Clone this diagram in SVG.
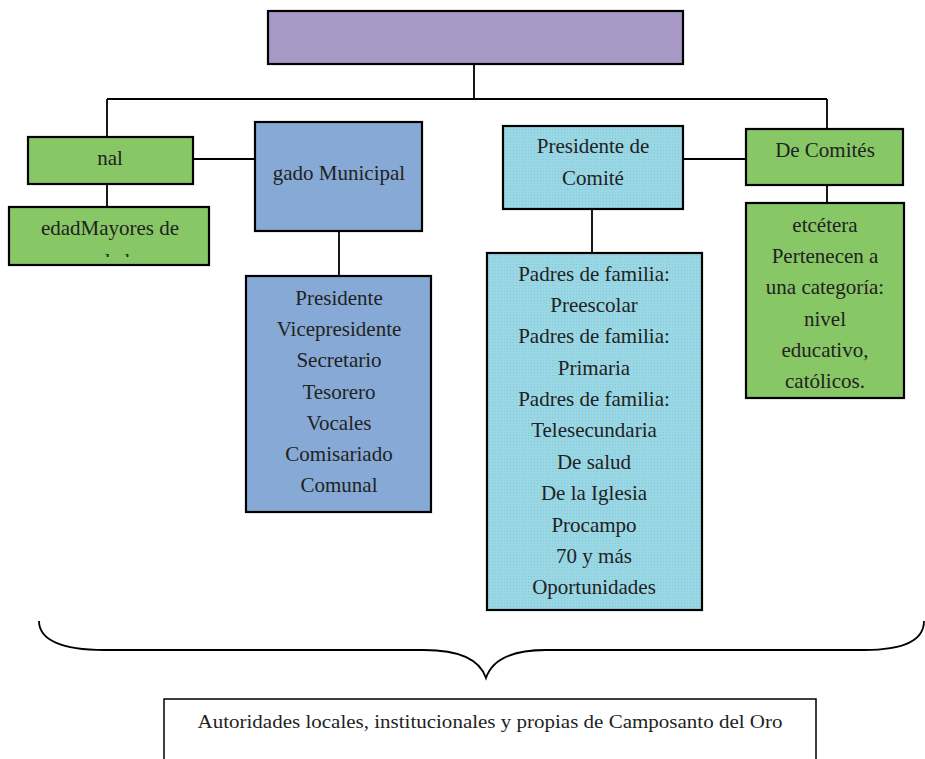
<svg xmlns="http://www.w3.org/2000/svg" width="925" height="759" viewBox="0 0 925 759">
<style>
.box{stroke:#000;stroke-width:2.2}
.purple{fill:#a898c6}
.green{fill:#88c765}
.blue{fill:#86aad5}
.cyan{fill:url(#dots)}
.t{font-family:"Liberation Serif","Times New Roman",serif;font-size:21px;fill:#222;text-anchor:middle}
.small{font-size:18.5px}
.conn{fill:none;stroke:#000;stroke-width:1.8}
</style>
<defs>
<pattern id="dots" width="3" height="3" patternUnits="userSpaceOnUse">
<rect width="3" height="3" fill="#9ad7e5"/>
<rect width="1" height="1" fill="#86c8d8"/>
</pattern>
<clipPath id="clipEdad"><rect x="9" y="207" width="200" height="50"/></clipPath>
</defs>
<g id="connectors">
<path class="conn" d="M474,64 V99 M107,99 H827 M107,99 V137 M107,184 V207 M193,159 H255 M339,231 V277 M683,159 H746 M827,99 V129 M827,185 V203 M592,209 V253"/>
<path class="conn" d="M39,621 C39,640 62,650 104,650 L424,650 C460,650 480,660 486,678 C492,660 512,650 546,650 L864,650 C904,650 924,640 924,621"/>
</g>
<g id="top">
<rect class="box purple" x="268" y="11" width="415" height="53"/>
</g>
<g id="nal">
<rect class="box green" x="28" y="137" width="165" height="47"/>
<text class="t" x="110" y="165">nal</text>
</g>
<g id="mayores">
<rect class="box green" x="9" y="207" width="200" height="58"/>
<g clip-path="url(#clipEdad)">
<text class="t" x="110" y="235">edadMayores de</text>
<text class="t" x="110" y="268">edad</text>
</g>
</g>
<g id="municipal">
<rect class="box blue" x="255" y="122" width="167" height="109"/>
<text class="t" x="339" y="180">gado Municipal</text>
</g>
<g id="municipal-list">
<rect class="box blue" x="246" y="276" width="185" height="236"/>
<text class="t" x="339" y="305">Presidente</text>
<text class="t" x="339" y="336">Vicepresidente</text>
<text class="t" x="339" y="367">Secretario</text>
<text class="t" x="339" y="399">Tesorero</text>
<text class="t" x="339" y="430">Vocales</text>
<text class="t" x="339" y="461">Comisariado</text>
<text class="t" x="339" y="492">Comunal</text>
</g>
<g id="presidente-comite">
<rect class="box cyan" x="503" y="126" width="180" height="83"/>
<text class="t" x="593" y="153">Presidente de</text>
<text class="t" x="593" y="185">Comité</text>
</g>
<g id="comite-list">
<rect class="box cyan" x="487" y="253" width="215" height="357"/>
<text class="t" x="594" y="281">Padres de familia:</text>
<text class="t" x="594" y="312">Preescolar</text>
<text class="t" x="594" y="343">Padres de familia:</text>
<text class="t" x="594" y="375">Primaria</text>
<text class="t" x="594" y="406">Padres de familia:</text>
<text class="t" x="594" y="437">Telesecundaria</text>
<text class="t" x="594" y="469">De salud</text>
<text class="t" x="594" y="500">De la Iglesia</text>
<text class="t" x="594" y="532">Procampo</text>
<text class="t" x="594" y="563">70 y más</text>
<text class="t" x="594" y="594">Oportunidades</text>
</g>
<g id="de-comites">
<rect class="box green" x="746" y="129" width="157" height="56"/>
<text class="t" x="825" y="157">De Comités</text>
</g>
<g id="categoria">
<rect class="box green" x="746" y="203" width="158" height="195"/>
<text class="t" x="825" y="232">etcétera</text>
<text class="t" x="825" y="263">Pertenecen a</text>
<text class="t" x="825" y="294">una categoría:</text>
<text class="t" x="825" y="326">nivel</text>
<text class="t" x="825" y="357">educativo,</text>
<text class="t" x="825" y="388">católicos.</text>
</g>
<g id="autoridades">
<rect x="164" y="699" width="652" height="80" fill="#fff" stroke="#000" stroke-width="1.5"/>
<text class="t small" x="490" y="728" textLength="585" lengthAdjust="spacingAndGlyphs">Autoridades locales, institucionales y propias de Camposanto del Oro</text>
</g>
</svg>
